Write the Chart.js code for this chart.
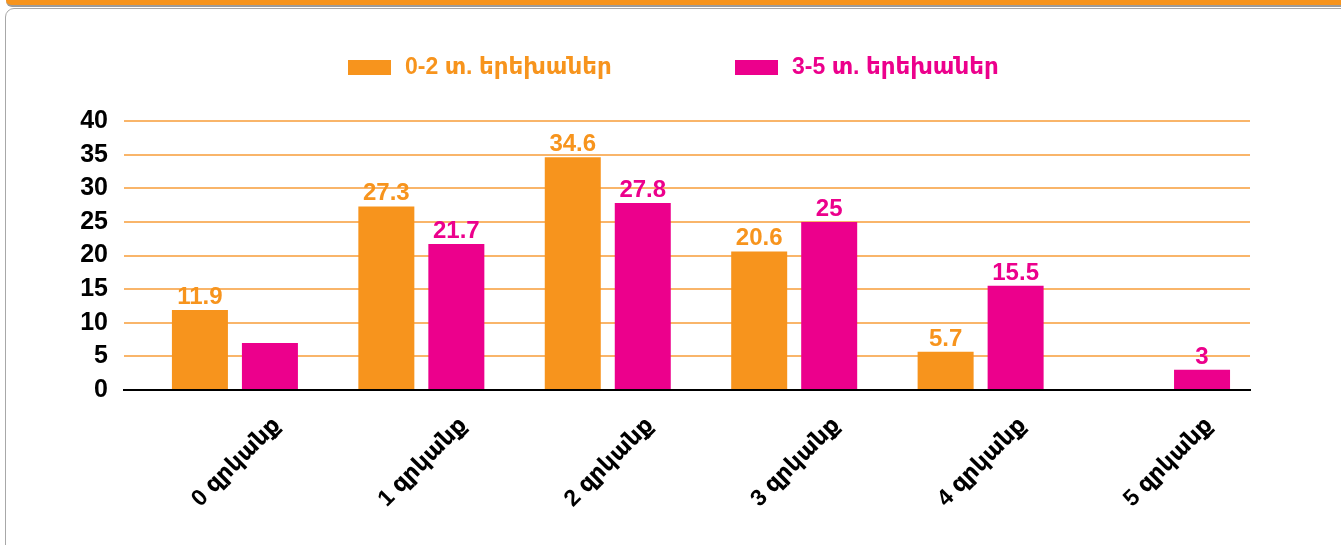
<!DOCTYPE html>
<html>
<head>
<meta charset="utf-8">
<script src="https://cdn.jsdelivr.net/npm/chart.js@4.4.1/dist/chart.umd.min.js"></script>
<style>
  html, body { margin: 0; padding: 0; width: 1341px; height: 545px; overflow: hidden; background: #fff; }
  #topbar { position: absolute; left: 6px; right: -12px; top: -12px; height: 17px; background: #F7941D;
            border-bottom: 2px solid #9c9c9c; border-radius: 0 0 0 6px; }
  #card { position: absolute; left: 5px; top: 8px; right: -12px; bottom: -12px;
          border: 1.5px solid #a8a8a8; border-radius: 9px; background: #fff; }
  #c { position: absolute; left: 0; top: 0; }
</style>
</head>
<body>
<div id="topbar"></div>
<div id="card"></div>
<canvas id="c" width="1341" height="545"></canvas>
<script>
// ---- data ----
const categories = ['0 զրկանք', '1 զրկանք', '2 զրկանք', '3 զրկանք', '4 զրկանք', '5 զրկանք'];
const seriesNames = ['0-2 տ. երեխաներ', '3-5 տ. երեխաներ'];
const values02 = [11.9, 27.3, 34.6, 20.6, 5.7, 0];
const values35 = [7.0, 21.7, 27.8, 25, 15.5, 3];
const labels02 = ['11.9', '27.3', '34.6', '20.6', '5.7', ''];
const labels35 = ['', '21.7', '27.8', '25', '15.5', '3'];
const yTicks = [0, 5, 10, 15, 20, 25, 30, 35, 40];

const ORANGE = '#F7941D';
const PINK = '#EC008C';
const GRID = '#F9B56A';
const FONT = "'Liberation Sans', Arial, 'DejaVu Sans', sans-serif";

const valueLabels = [labels02, labels35];

const dataLabelPlugin = {
  id: 'dataLabels',
  afterDatasetsDraw(chart) {
    const ctx = chart.ctx;
    ctx.save();
    ctx.font = 'bold 24px ' + FONT;
    ctx.textAlign = 'center';
    ctx.textBaseline = 'alphabetic';
    chart.data.datasets.forEach((ds, di) => {
      const meta = chart.getDatasetMeta(di);
      ctx.fillStyle = ds.backgroundColor;
      meta.data.forEach((el, i) => {
        const t = valueLabels[di][i];
        if (t) ctx.fillText(t, el.x, el.y - 6);
      });
    });
    ctx.restore();
  }
};

const legendPlugin = {
  id: 'customLegend',
  afterDraw(chart) {
    const ctx = chart.ctx;
    const xs = [348, 735];
    ctx.save();
    ctx.font = 'bold 23px ' + FONT;
    ctx.textBaseline = 'middle';
    ctx.textAlign = 'left';
    chart.data.datasets.forEach((ds, di) => {
      ctx.fillStyle = ds.backgroundColor;
      ctx.fillRect(xs[di], 60, 43, 15);
      ctx.fillText(ds.label, xs[di] + 57, 68);
    });
    ctx.restore();
  }
};

new Chart(document.getElementById('c'), {
  type: 'bar',
  data: {
    datasets: [
      { label: seriesNames[0], data: values02.map((v, i) => ({ x: i, y: v })), backgroundColor: ORANGE },
      { label: seriesNames[1], data: values35.map((v, i) => ({ x: i, y: v })), backgroundColor: PINK }
    ]
  },
  options: {
    responsive: false,
    animation: false,
    devicePixelRatio: 1,
    categoryPercentage: 0.751,
    barPercentage: 0.8,
    layout: { padding: { top: 121, right: 91, left: 0, bottom: 0 } },
    plugins: { legend: { display: false }, tooltip: { enabled: false } },
    scales: {
      x: {
        type: 'linear',
        offset: false,
        min: -0.595,
        max: 5.445,
        afterBuildTicks: (axis) => { axis.ticks = categories.map((_, i) => ({ value: i })); },
        afterFit: (axis) => { axis.height = 155; },
        grid: { display: false },
        border: { display: true, color: '#000', width: 2 },
        ticks: {
          callback: (v) => categories[v],
          minRotation: 45, maxRotation: 45,
          labelOffset: 42,
          padding: 14,
          color: '#000',
          font: { family: FONT, size: 23, weight: 'bold' }
        }
      },
      y: {
        min: 0, max: 40,
        afterBuildTicks: (axis) => { axis.ticks = yTicks.map(v => ({ value: v })); },
        afterFit: (axis) => { axis.width = 124; },
        border: { display: false },
        grid: {
          color: (c) => (c.tick && c.tick.value === 0) ? 'rgba(0,0,0,0)' : GRID,
          lineWidth: 2,
          drawTicks: false
        },
        ticks: {
          padding: 16,
          color: '#000',
          font: { family: FONT, size: 25, weight: 'bold' }
        }
      }
    }
  },
  plugins: [dataLabelPlugin, legendPlugin]
});
</script>
</body>
</html>
